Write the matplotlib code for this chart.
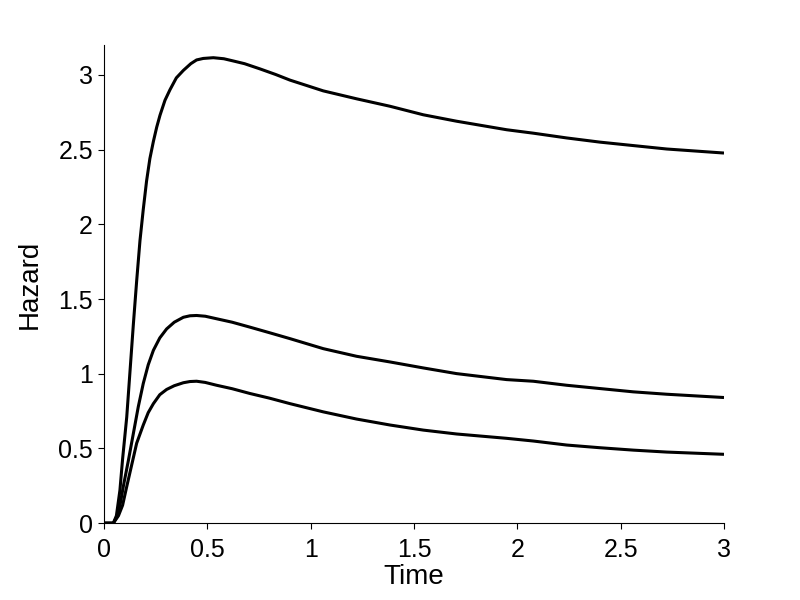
import matplotlib
matplotlib.use("Agg")
import matplotlib.pyplot as plt

# Time / hazard readings for the three curves
t_top = [0.0, 0.045, 0.06, 0.077, 0.09, 0.11, 0.126, 0.142, 0.158, 0.174, 0.19, 0.206,
         0.222, 0.239, 0.255, 0.271, 0.295, 0.319, 0.35, 0.384, 0.42, 0.448, 0.48,
         0.529, 0.58, 0.626, 0.68, 0.755, 0.83, 0.9, 1.061, 1.222, 1.384, 1.545,
         1.706, 1.948, 2.077, 2.239, 2.4, 2.561, 2.723, 3.0]
h_top = [0.0, 0.0, 0.05, 0.22, 0.43, 0.71, 1.02, 1.33, 1.62, 1.89, 2.10, 2.29,
         2.44, 2.555, 2.65, 2.73, 2.83, 2.9, 2.98, 3.03, 3.075, 3.10, 3.11,
         3.115, 3.108, 3.093, 3.075, 3.04, 3.003, 2.965, 2.893, 2.84, 2.79, 2.733,
         2.69, 2.633, 2.61, 2.578, 2.55, 2.527, 2.504, 2.477]

t_mid = [0.0, 0.045, 0.065, 0.08, 0.094, 0.118, 0.142, 0.166, 0.19, 0.214, 0.239,
         0.27, 0.303, 0.34, 0.384, 0.416, 0.448, 0.49, 0.545, 0.62, 0.706, 0.8,
         0.9, 1.061, 1.222, 1.384, 1.545, 1.706, 1.948, 2.077, 2.239, 2.4,
         2.561, 2.723, 3.0]
h_mid = [0.0, 0.0, 0.05, 0.14, 0.25, 0.42, 0.60, 0.78, 0.935, 1.06, 1.157,
         1.24, 1.30, 1.345, 1.378, 1.388, 1.39, 1.385, 1.368, 1.345, 1.312, 1.275,
         1.235, 1.168, 1.117, 1.079, 1.039, 1.001, 0.961, 0.95, 0.923, 0.901,
         0.879, 0.863, 0.841]

t_low = [0.0, 0.045, 0.07, 0.09, 0.11, 0.134, 0.158, 0.19, 0.214, 0.239, 0.27,
         0.303, 0.34, 0.384, 0.416, 0.448, 0.49, 0.545, 0.62, 0.706, 0.8,
         0.9, 1.061, 1.222, 1.384, 1.545, 1.706, 1.948, 2.077, 2.239, 2.4,
         2.561, 2.723, 3.0]
h_low = [0.0, 0.0, 0.05, 0.12, 0.245, 0.39, 0.535, 0.657, 0.74, 0.80, 0.86,
         0.895, 0.92, 0.94, 0.948, 0.95, 0.942, 0.923, 0.90, 0.868, 0.837,
         0.80, 0.745, 0.697, 0.657, 0.623, 0.597, 0.568, 0.55, 0.523, 0.505,
         0.489, 0.476, 0.461]

x_ticks = [0, 0.5, 1, 1.5, 2, 2.5, 3]
x_labels = ["0", "0.5", "1", "1.5", "2", "2.5", "3"]
y_ticks = [0, 0.5, 1, 1.5, 2, 2.5, 3]
y_labels = ["0", "0.5", "1", "1.5", "2", "2.5", "3"]

plt.rcParams['font.family'] = ['Liberation Sans', 'DejaVu Sans']

fig = plt.figure(figsize=(8, 6), dpi=100)
ax = fig.add_axes([0.13, 0.128, 0.775, 0.797])

for t, h in [(t_top, h_top), (t_mid, h_mid), (t_low, h_low)]:
    ax.plot(t, h, color='black', linewidth=2.2, solid_joinstyle='round',
            solid_capstyle='butt')

ax.set_xlim(0, 3)
ax.set_ylim(0, 3.2)
ax.set_xticks(x_ticks)
ax.set_xticklabels(x_labels)
ax.set_yticks(y_ticks)
ax.set_yticklabels(y_labels)
ax.spines['top'].set_visible(False)
ax.spines['right'].set_visible(False)
for s in ('left', 'bottom'):
    ax.spines[s].set_linewidth(0.8)
ax.tick_params(axis='x', direction='out', length=4, width=0.8, labelsize=18, pad=7)
ax.tick_params(axis='y', direction='out', length=4, width=0.8, labelsize=18, pad=4)
ax.set_xlabel('Time', fontsize=20, labelpad=1)
ax.set_ylabel('Hazard', fontsize=20, labelpad=11)

fig.savefig('out.png', dpi=100)
